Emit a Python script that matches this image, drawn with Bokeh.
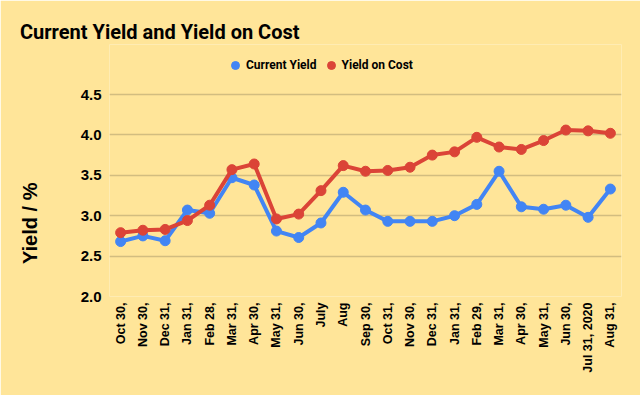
import math
from bokeh.plotting import figure
from bokeh.models import (Range1d, FixedTicker, Legend, LegendItem)
from bokeh.embed import file_html
from bokeh.resources import INLINE

categories = ["Oct 30,", "Nov 30,", "Dec 31,", "Jan 31,", "Feb 28,", "Mar 31,",
              "Apr 30,", "May 31,", "Jun 30,", "July", "Aug", "Sep 30,",
              "Oct 31,", "Nov 30,", "Dec 31,", "Jan 31,", "Feb 29,", "Mar 31,",
              "Apr 30,", "May 31,", "Jun 30,", "Jul 31, 2020", "Aug 31,"]
current_yield = [2.68, 2.75, 2.69, 3.07, 3.03, 3.47, 3.38, 2.81, 2.73, 2.91, 3.29, 3.07,
                 2.93, 2.93, 2.93, 3.00, 3.14, 3.55, 3.11, 3.08, 3.13, 2.98, 3.33]
yield_on_cost = [2.79, 2.82, 2.83, 2.94, 3.13, 3.57, 3.64, 2.96, 3.02, 3.31, 3.62, 3.55,
                 3.56, 3.60, 3.75, 3.79, 3.97, 3.85, 3.82, 3.93, 4.06, 4.05, 4.02]
y_ticks = [2.0, 2.5, 3.0, 3.5, 4.0, 4.5]

BG = "#FFE599"
BLUE = "#4285F4"
RED = "#DB4437"
GRID = "#d2bd80"

# layout (pixels): plot frame spans y 44..296, gridlines 2.0..4.5 span y 296..94
FRAME_TOP, GRID_TOP, FRAME_BOTTOM = 44, 94, 296
px_per_unit = (FRAME_BOTTOM - GRID_TOP) / (y_ticks[-1] - y_ticks[0])
y_end = y_ticks[-1] + (GRID_TOP - FRAME_TOP) / px_per_unit

xs = list(range(len(categories)))

p = figure(width=640, height=395, output_backend="svg", toolbar_location=None,
           x_range=Range1d(-0.5, len(categories) - 0.5),
           y_range=Range1d(y_ticks[0], y_end),
           min_border_left=109, min_border_right=19, min_border_top=FRAME_TOP,
           min_border_bottom=395 - FRAME_BOTTOM)
p.background_fill_color = BG
p.border_fill_color = BG
p.outline_line_color = None

# lines and markers
p.line(xs, current_yield, line_color=BLUE, line_width=4)
r1 = p.scatter(xs, current_yield, size=10, fill_color=BLUE, line_color=BLUE)
p.line(xs, yield_on_cost, line_color=RED, line_width=4)
r2 = p.scatter(xs, yield_on_cost, size=10, fill_color=RED, line_color=RED)

# axes
p.xaxis.ticker = FixedTicker(ticks=xs)
p.xaxis.major_label_overrides = {i: c for i, c in zip(xs, categories)}
p.xaxis.major_label_orientation = math.pi / 2
p.xaxis.major_label_text_font = "Liberation Sans"
p.xaxis.major_label_text_font_style = "bold"
p.xaxis.major_label_text_font_size = "12.5px"
p.xaxis.major_label_text_color = "#000000"
p.xaxis.major_label_standoff = 6
p.xaxis.axis_line_color = None
p.xaxis.major_tick_line_color = None
p.xaxis.minor_tick_line_color = None
p.xaxis.major_tick_out = 0

p.yaxis.ticker = FixedTicker(ticks=y_ticks)
p.yaxis.major_label_overrides = {t: f"{t:.1f}" for t in y_ticks}
p.yaxis.major_label_text_font = "Liberation Sans"
p.yaxis.major_label_text_font_style = "bold"
p.yaxis.major_label_text_font_size = "15px"
p.yaxis.major_label_text_color = "#000000"
p.yaxis.major_label_standoff = 8
p.yaxis.axis_line_color = None
p.yaxis.major_tick_line_color = None
p.yaxis.minor_tick_line_color = None
p.yaxis.major_tick_out = 0
# trailing no-break spaces move the centred axis title down along the axis
p.yaxis.axis_label = "Yield / %" + "\u00a0" * 19
p.yaxis.axis_label_standoff = 37
p.yaxis.axis_label_text_font = "Liberation Sans"
p.yaxis.axis_label_text_font_style = "bold"
p.yaxis.axis_label_text_font_size = "20px"
p.yaxis.axis_label_text_color = "#000000"

p.xgrid.grid_line_color = None
p.ygrid.grid_line_color = GRID
p.ygrid.grid_line_width = 1.3

# title
p.title.text = "Current Yield and Yield on Cost"
p.title.align = "left"
p.title.offset = -89.5
p.title.standoff = 2
p.title.text_font = "Roboto"
p.title.text_font_style = "bold"
p.title.text_font_size = "20px"
p.title.text_color = "#000000"

legend = Legend(items=[LegendItem(label="Current Yield", renderers=[r1]),
                       LegendItem(label="Yield on Cost", renderers=[r2])],
                location=(116, FRAME_BOTTOM - 75), orientation="horizontal",
                glyph_width=20, glyph_height=20, label_standoff=1, spacing=4,
                padding=0, margin=0, border_line_color=None,
                background_fill_alpha=0,
                label_text_font="Roboto", label_text_font_style="bold",
                label_text_font_size="12px", label_text_color="#000000")
p.add_layout(legend)

html = file_html(p, INLINE)
open("out.html", "w").write(html)
